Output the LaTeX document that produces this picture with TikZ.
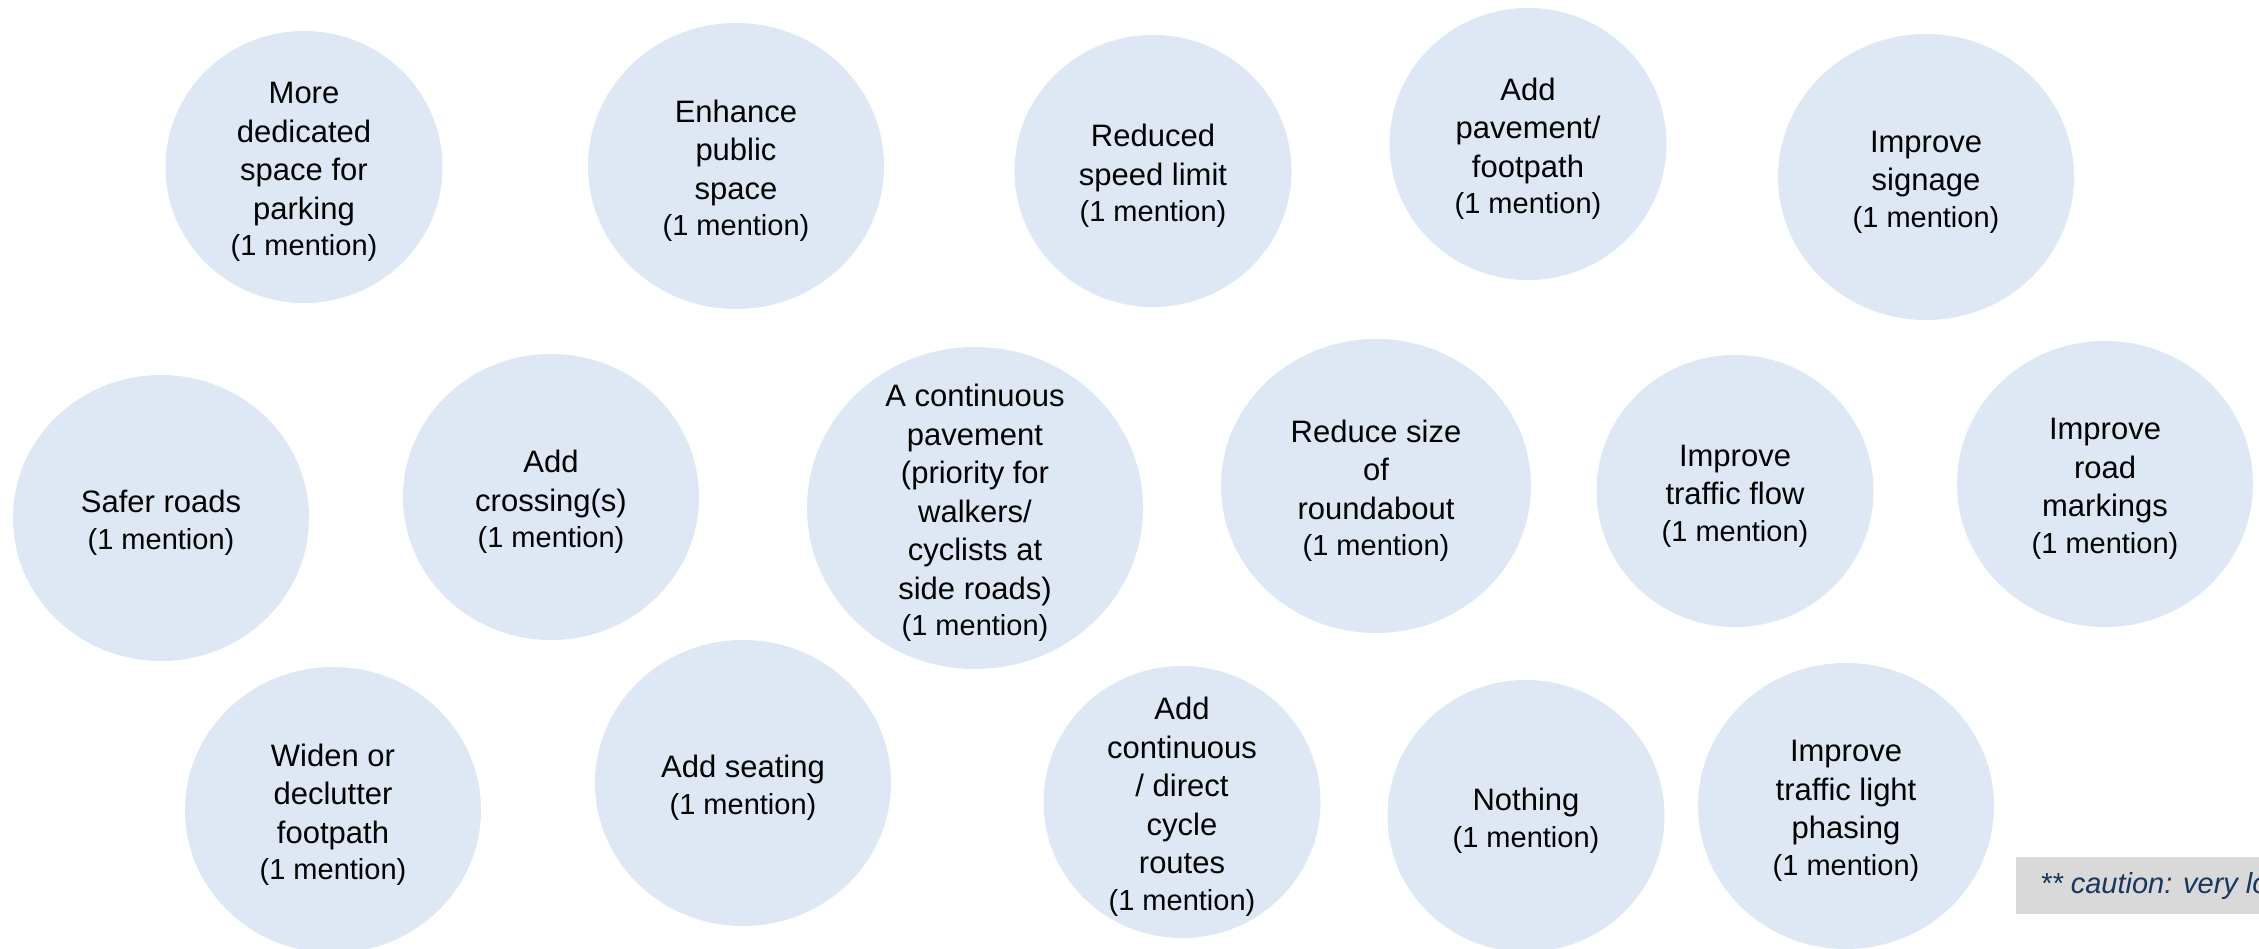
\documentclass[tikz,border=0pt]{standalone}
\usepackage{fontspec}
\setmainfont{Liberation Sans}
\usetikzlibrary{shapes.geometric}
\definecolor{bubble}{HTML}{DDE8F4}
\definecolor{cautionbg}{HTML}{D9D9D9}
\definecolor{cautiontxt}{HTML}{17375E}
\newcommand{\mention}{\\[-2pt]{\fontsize{29}{34}\selectfont (1 mention)}}
\tikzset{
  bub/.style={ellipse, fill=bubble, draw=none, inner sep=0pt},
  sm/.style={bub, minimum width=277pt, minimum height=272pt},
  md/.style={bub, minimum width=296pt, minimum height=286pt},
  rb/.style={bub, minimum width=310pt, minimum height=294pt},
  lg/.style={bub, minimum width=336pt, minimum height=322pt},
  lbl/.style={align=center, font=\fontsize{31}{38.5}\selectfont, text=black, inner sep=0pt, anchor=center, yshift=-5pt},
}
\begin{document}
\begin{tikzpicture}[x=1pt, y=-1pt]
\path[use as bounding box, fill=white] (0,0) rectangle (2259,949);
\clip (0,0) rectangle (2259,949);
% row 1
\node[sm] (c1) at (304,167) {};
\node[lbl] (t1) at (c1.center) {More\\dedicated\\space for\\parking\mention};
\node[md] (c2) at (736,166) {};
\node[lbl] (t2) at (c2.center) {Enhance\\public\\space\mention};
\node[sm] (c3) at (1153,171) {};
\node[lbl] (t3) at (c3.center) {Reduced\\speed limit\mention};
\node[sm] (c4) at (1528,144) {};
\node[lbl] (t4) at (c4.center) {Add\\pavement/\\footpath\mention};
\node[md] (c5) at (1926,177) {};
\node[lbl] (t5) at (c5.center) {Improve\\signage\mention};
% row 2
\node[md] (c6) at (161,518) {};
\node[lbl] (t6) at (c6.center) {Safer roads\mention};
\node[md] (c7) at (551,497) {};
\node[lbl] (t7) at (c7.center) {Add\\crossing(s)\mention};
\node[lg] (c8) at (975,508) {};
\node[lbl] (t8) at (c8.center) {A continuous\\pavement\\(priority for\\walkers/\\cyclists at\\side roads)\mention};
\node[rb] (c9) at (1376,486) {};
\node[lbl] (t9) at (c9.center) {Reduce size\\of\\roundabout\mention};
\node[sm] (c10) at (1735,491) {};
\node[lbl] (t10) at (c10.center) {Improve\\traffic flow\mention};
\node[md] (c11) at (2105,484) {};
\node[lbl] (t11) at (c11.center) {Improve\\road\\markings\mention};
% row 3
\node[md] (c12) at (333,810) {};
\node[lbl] (t12) at (c12.center) {Widen or\\declutter\\footpath\mention};
\node[md] (c13) at (743,783) {};
\node[lbl] (t13) at (c13.center) {Add seating\mention};
\node[sm] (c14) at (1182,802) {};
\node[lbl] (t14) at (c14.center) {Add\\continuous\\/ direct\\cycle\\routes\mention};
\node[sm] (c15) at (1526,816) {};
\node[lbl] (t15) at (c15.center) {Nothing\mention};
\node[md] (c16) at (1846,806) {};
\node[lbl] (t16) at (c16.center) {Improve\\traffic light\\phasing\mention};
% caution box
\node[fill=cautionbg, minimum width=260pt, minimum height=57pt, inner sep=0pt, anchor=north west] (cb) at (2016,857) {};
\node[anchor=west, inner sep=0pt, text=cautiontxt, font=\fontsize{29}{34}\selectfont\itshape] (ct) at ([xshift=24pt]cb.west) {** caution: very lo};
\end{tikzpicture}
\end{document}
